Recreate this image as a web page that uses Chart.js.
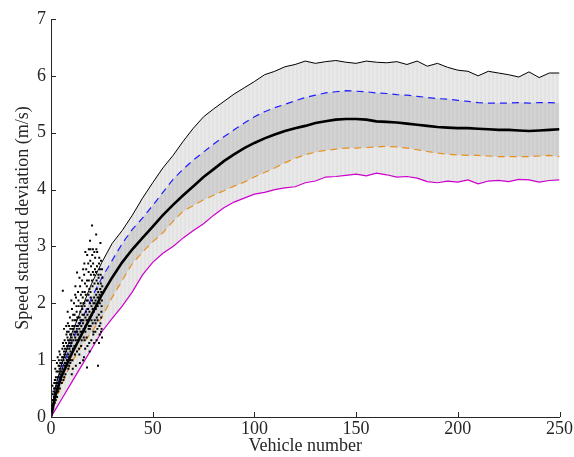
<!DOCTYPE html>
<html>
<head>
<meta charset="utf-8">
<script src="https://cdn.jsdelivr.net/npm/chart.js@4/dist/chart.umd.min.js"></script>
<style>
html,body{margin:0;padding:0;background:#fff;}
#wrap{width:574px;height:457px;position:relative;}
</style>
</head>
<body>
<div id="wrap"><canvas id="c" width="574" height="457"></canvas></div>
<script>
// ---- data ----
const vehicleX = [0,2,5,10,15,20,25,30,35,40,45,50,55,60,65,70,75,80,85,90,95,100,105,110,115,120,125,130,135,140,145,150,155,160,165,170,175,180,185,190,195,200,205,210,215,220,225,230,235,240,245,250];
const maxStd   = [0,0.5,0.9,1.45,1.9,2.35,2.72,3.05,3.28,3.55,3.85,4.12,4.38,4.6,4.85,5.08,5.28,5.42,5.55,5.68,5.79,5.9,6.02,6.08,6.16,6.2,6.26,6.22,6.25,6.27,6.24,6.22,6.26,6.24,6.23,6.25,6.2,6.26,6.17,6.22,6.15,6.1,6.08,6.0,6.08,6.05,6.02,5.98,6.07,5.97,6.05,6.05];
const upperStd = [0,0.4,0.8,1.3,1.7,2.1,2.45,2.75,3.05,3.3,3.5,3.72,3.95,4.18,4.36,4.52,4.66,4.8,4.93,5.05,5.17,5.28,5.37,5.44,5.5,5.56,5.62,5.66,5.7,5.72,5.74,5.73,5.72,5.7,5.69,5.67,5.66,5.64,5.62,5.6,5.59,5.57,5.55,5.53,5.52,5.52,5.52,5.53,5.52,5.53,5.53,5.52];
const meanStd  = [0,0.35,0.7,1.1,1.45,1.8,2.15,2.45,2.72,2.95,3.15,3.35,3.55,3.73,3.9,4.06,4.22,4.36,4.5,4.62,4.73,4.82,4.9,4.97,5.03,5.08,5.12,5.17,5.2,5.23,5.24,5.24,5.23,5.2,5.19,5.18,5.16,5.14,5.12,5.1,5.09,5.08,5.08,5.07,5.06,5.05,5.05,5.04,5.03,5.04,5.05,5.06];
const lowerStd = [0,0.25,0.55,0.95,1.25,1.5,1.75,2.1,2.4,2.7,2.9,3.08,3.24,3.44,3.62,3.72,3.82,3.9,3.98,4.06,4.13,4.22,4.3,4.38,4.47,4.55,4.61,4.66,4.69,4.71,4.73,4.73,4.74,4.75,4.76,4.75,4.73,4.7,4.67,4.64,4.62,4.61,4.6,4.6,4.59,4.58,4.58,4.58,4.58,4.59,4.6,4.58];
const minStd   = [0,0.12,0.3,0.6,0.9,1.2,1.5,1.73,1.95,2.2,2.5,2.72,2.88,3.0,3.15,3.28,3.4,3.55,3.68,3.78,3.85,3.92,3.95,4.0,4.03,4.05,4.12,4.15,4.22,4.23,4.25,4.27,4.24,4.29,4.26,4.22,4.23,4.2,4.14,4.12,4.15,4.13,4.17,4.1,4.15,4.16,4.14,4.18,4.17,4.13,4.16,4.17];
const observed = [
[0.5,0.1],[0.8,0.3],[1.0,0.2],[1.2,0.45],[1.4,0.35],[0.7,0.55],[1.6,0.6],[1.1,0.15],
[1.8,0.25],[2.0,0.5],[2.2,0.4],[2.4,0.7],[2.6,0.55],[2.1,0.85],[1.9,0.65],[2.8,0.45],
[3.0,0.35],[3.2,0.6],[3.4,0.8],[2.9,0.95],[3.6,0.55],[3.3,1.05],[3.8,0.7],[3.1,0.5],
[4.0,0.6],[4.2,0.85],[4.4,0.75],[3.9,1.0],[4.6,0.95],[4.1,1.15],[4.8,0.65],[4.5,1.1],
[5.0,0.7],[5.2,0.9],[5.4,1.05],[4.9,0.8],[5.6,1.2],[5.3,0.6],[5.8,2.22],[5.5,0.95],
[6.0,0.8],[6.2,1.0],[6.4,1.15],[5.9,1.3],[6.6,0.9],[6.3,1.25],[6.8,1.05],[6.5,0.7],
[7.0,0.85],[7.2,1.1],[7.4,1.3],[6.9,1.2],[7.6,1.45],[7.3,0.95],[7.8,1.0],[7.5,1.6],
[8.0,1.0],[8.2,1.2],[8.4,1.35],[7.9,1.5],[8.6,1.1],[8.3,1.65],[8.8,1.25],[8.5,0.85],
[9.0,1.05],[9.2,1.3],[9.4,1.45],[8.9,1.6],[9.6,1.15],[9.3,1.75],[9.8,1.35],[9.5,0.95],
[10.0,1.1],[10.2,1.4],[10.4,1.55],[9.9,1.25],[10.6,1.7],[10.3,1.9],[10.8,1.2],[10.5,1.0],
[11.0,1.2],[11.2,1.45],[11.4,1.6],[10.9,1.35],[11.6,1.8],[11.3,2.0],[11.8,1.1],[11.5,1.5],
[12.0,1.25],[12.2,1.5],[12.4,1.7],[11.9,1.4],[12.6,1.85],[12.3,2.1],[12.8,1.15],[12.5,1.6],
[12.8,2.54],[13.0,1.35],[13.2,1.6],[13.4,1.75],[12.9,1.5],[13.6,1.95],[13.3,2.2],[13.8,1.2],[13.5,1.45],
[14.0,1.4],[14.2,1.65],[14.4,1.85],[13.9,1.55],[14.6,2.0],[14.3,2.3],[14.8,1.25],[14.5,1.7],
[15.0,1.5],[15.2,1.7],[15.4,1.9],[14.9,1.6],[15.6,2.1],[15.3,2.4],[15.8,1.0],[15.5,1.8],
[16.0,1.55],[16.2,1.8],[16.4,2.0],[15.9,1.7],[16.6,2.2],[16.3,2.5],[16.8,1.2],[16.5,1.35],
[16.9,2.9],[17.0,1.6],[17.2,1.85],[17.4,2.05],[16.9,1.75],[17.6,2.3],[17.3,2.6],[17.7,0.87],[17.5,1.4],
[18.0,1.7],[18.2,1.9],[18.4,2.15],[17.9,1.8],[18.6,2.4],[18.3,2.7],[18.8,1.3],[18.5,1.55],
[19.4,2.95],[19.0,1.75],[19.2,2.0],[19.4,2.2],[18.9,1.85],[19.6,2.5],[19.3,2.75],[19.8,1.35],[19.5,1.6],
[20.2,3.37],[20.0,1.8],[20.2,2.05],[20.4,2.3],[19.9,1.95],[20.6,2.55],[20.3,2.85],[20.8,1.45],[20.5,1.65],
[21.0,1.85],[21.2,2.1],[21.4,2.35],[20.9,2.0],[21.6,2.6],[21.3,2.9],[21.8,1.5],[21.5,1.7],
[22.2,3.21],[22.0,1.9],[22.2,2.15],[22.4,2.4],[21.9,2.05],[22.6,2.65],[22.3,2.95],[22.8,1.55],[22.5,1.75],
[23.1,0.9],[23.0,1.95],[23.2,2.2],[23.4,2.45],[22.9,2.1],[23.6,2.7],[23.3,2.5],[23.8,1.6],[23.5,1.8],
[24.3,3.06],[24.0,2.0],[24.2,2.25],[24.4,2.5],[23.9,2.15],[24.6,2.75],[24.3,1.65],[24.8,1.85],
[25.0,2.05],[25.2,2.3],[24.9,1.55],[25.1,2.6],[24.7,1.75],
[0.3,0.05],[0.6,0.2],[0.9,0.4],[1.3,0.25],[1.5,0.5],[1.7,0.35],[2.3,0.3],[2.5,0.6],[2.7,0.8],[2.2,0.65],
[3.5,0.45],[3.7,0.9],[3.3,0.7],[2.9,0.6],[4.3,0.5],[4.7,0.8],[4.5,0.65],[4.1,0.9],[5.1,1.0],[5.5,0.75],
[5.7,0.85],[5.9,1.05],[6.1,0.65],[6.5,1.1],[6.7,1.35],[6.9,0.95],[7.1,0.75],[7.5,1.15],[7.7,0.9],[7.9,1.25],
[8.1,1.4],[8.5,1.05],[8.7,1.5],[8.9,0.9],[9.1,1.2],[9.5,1.55],[9.7,1.0],[9.9,1.45],[10.1,1.3],[10.5,1.6],
[10.7,0.85],[10.9,1.8],[11.1,1.55],[11.5,1.25],[11.7,1.7],[11.9,2.15],[12.1,1.35],[12.5,1.95],[12.7,1.55],[12.9,1.75],
[13.1,1.45],[13.5,2.05],[13.7,1.65],[13.9,1.1],[14.1,1.75],[14.5,1.5],[14.7,2.15],[14.9,1.95],[15.1,1.35],[15.5,2.2],
[15.7,1.65],[15.9,2.0],[16.1,1.4],[16.5,1.95],[16.7,2.35],[16.9,1.5],[17.1,2.15],[17.5,1.7],[17.7,2.4],[17.9,1.25],
[18.1,2.05],[18.5,2.55],[18.7,1.6],[18.9,2.25],[19.1,1.55],[19.5,2.1],[19.7,2.65],[19.9,1.7],[20.1,2.4],[20.5,1.9],
[20.7,2.7],[20.9,1.5],[21.1,2.5],[21.5,2.0],[21.7,2.8],[21.9,1.65],[22.1,2.55],[22.5,2.25],[22.7,2.9],[22.9,1.7],
[23.1,2.35],[23.5,2.1],[23.7,2.8],[23.9,1.45],[24.1,2.6],[24.5,2.35],[24.7,2.2],[24.9,1.95],[25.1,1.4],[25.3,2.45],
[23.6,1.3],[21.2,1.3],[19.0,1.15],[16.2,1.05],[14.2,0.95],[12.2,0.9],[10.2,0.75],[19.2,3.1],[17.8,2.85],[15.8,2.6],
[14.0,2.45],[12.0,2.3],[10.0,2.05],[8.2,1.85],[6.4,1.55],[24.6,1.5],[22.4,1.35],[20.6,2.95],[18.6,2.95],[16.4,2.7]
];
const xTicks = [0,50,100,150,200,250];
const yTicks = [0,1,2,3,4,5,6,7];

// ---- helpers ----
function pts(ys){ return vehicleX.map((x,i)=>({x:x,y:ys[i]})); }
function stripes(c1,c2){
  const p=document.createElement('canvas'); p.width=4; p.height=4;
  const g=p.getContext('2d');
  g.fillStyle=c1; g.fillRect(0,0,2,4);
  g.fillStyle=c2; g.fillRect(2,0,2,4);
  return g.createPattern(p,'repeat');
}
const FONT = "'Liberation Serif','Times New Roman',serif";
const AXC = '#262626';

const inwardTicks = {
  id:'inwardTicks',
  afterDraw(chart){
    const ctx=chart.ctx, a=chart.chartArea, xs=chart.scales.x, ys=chart.scales.y;
    ctx.save(); ctx.strokeStyle=AXC; ctx.lineWidth=1; ctx.beginPath();
    xTicks.forEach(v=>{const p=Math.round(xs.getPixelForValue(v))+0.5; ctx.moveTo(p,a.bottom); ctx.lineTo(p,a.bottom-5);});
    yTicks.forEach(v=>{const p=Math.round(ys.getPixelForValue(v))+0.5; ctx.moveTo(a.left,p); ctx.lineTo(a.left+5,p);});
    ctx.stroke(); ctx.restore();
  }
};

new Chart(document.getElementById('c'),{
  type:'line',
  data:{datasets:[
    {label:'observed',type:'scatter',data:observed.map(p=>({x:p[0],y:p[1]})),pointStyle:'rect',pointRadius:1.4,backgroundColor:'#000',borderColor:'#000',borderWidth:0,order:0},
    {label:'mean',data:pts(meanStd),borderColor:'#000',borderWidth:2.6,pointRadius:0,fill:false,order:1},
    {label:'lower',data:pts(lowerStd),borderColor:'#e8901e',borderWidth:1.2,borderDash:[7,5],pointRadius:0,fill:false,order:2},
    {label:'upper',data:pts(upperStd),borderColor:'#1f1fff',borderWidth:1.2,borderDash:[7,5],pointRadius:0,fill:{target:2},backgroundColor:stripes('#cdcdcd','#d3d3d3'),order:3},
    {label:'min',data:pts(minStd),borderColor:'#cc00cc',borderWidth:1.2,pointRadius:0,fill:false,order:4},
    {label:'max',data:pts(maxStd),borderColor:'#000',borderWidth:1,pointRadius:0,fill:{target:4},backgroundColor:stripes('#e3e3e3','#e9e9e9'),order:5}
  ]},
  options:{
    responsive:false,animation:false,
    layout:{padding:{top:19,right:13,left:0,bottom:0}},
    elements:{line:{tension:0}},
    plugins:{legend:{display:false},tooltip:{enabled:false},filler:{drawTime:'beforeDatasetDraw'}},
    scales:{
      x:{type:'linear',min:0,max:250,
        afterFit(s){s.height=40;},
        afterBuildTicks(s){s.ticks=xTicks.map(v=>({value:v}));},
        grid:{display:true,drawOnChartArea:false,drawTicks:false},
        border:{display:true,color:AXC,width:1},
        ticks:{padding:1,color:AXC,font:{family:FONT,size:18},maxRotation:0},
        title:{display:true,text:'Vehicle number',color:AXC,font:{family:FONT,size:18},padding:{top:-7,bottom:0}}
      },
      y:{type:'linear',min:0,max:7,
        afterFit(s){s.width=51;},
        afterBuildTicks(s){s.ticks=yTicks.map(v=>({value:v}));},
        grid:{display:true,drawOnChartArea:false,drawTicks:false},
        border:{display:true,color:AXC,width:1},
        ticks:{padding:5,color:AXC,font:{family:FONT,size:18}},
        title:{display:true,text:'Speed standard deviation (m/s)',color:AXC,font:{family:FONT,size:18},padding:{top:12,bottom:0}}
      }
    }
  },
  plugins:[inwardTicks]
});
</script>
</body>
</html>
